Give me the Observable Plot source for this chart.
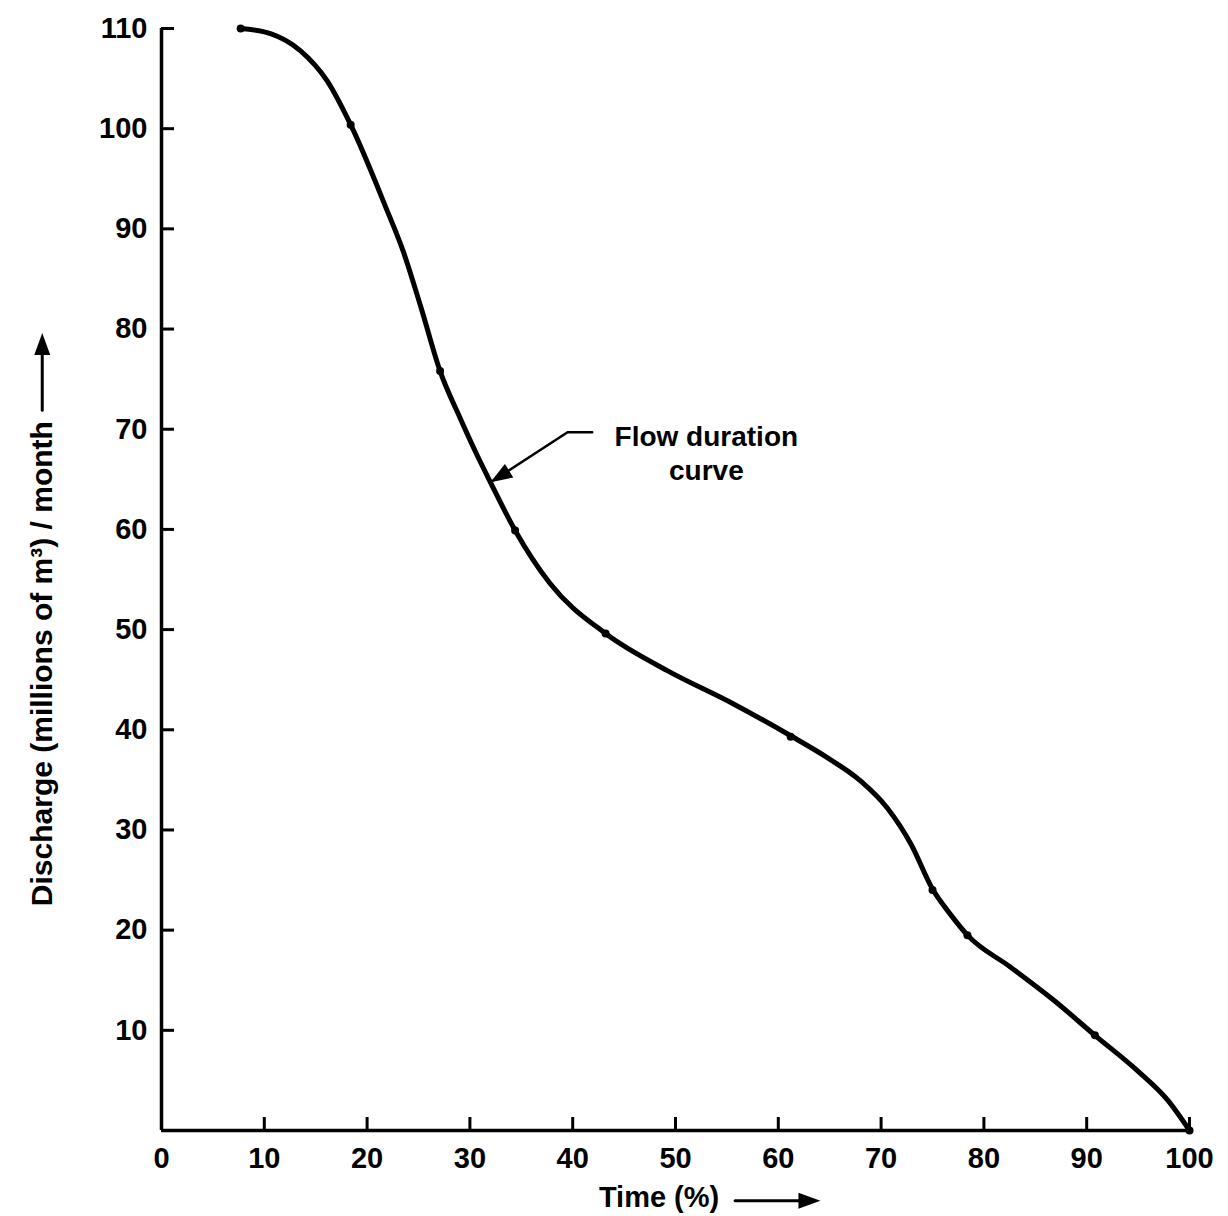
<!DOCTYPE html>
<html>
<head>
<meta charset="utf-8">
<script src="https://cdn.jsdelivr.net/npm/d3@7"></script>
<script src="https://cdn.jsdelivr.net/npm/@observablehq/plot@0.6"></script>
<style>
  html, body { margin: 0; padding: 0; background: #fff; }
  #chart svg { display: block; }
</style>
</head>
<body>
<div id="chart"></div>
<script>
// Plotted (marked) points of the flow duration curve
const markerTime      = [7.7, 18.4, 27.1, 34.4, 43.2, 61.2, 75.0, 78.4, 90.8, 100];
const markerDischarge = [110, 100.4, 75.8, 59.9, 49.6, 39.3, 24.0, 19.5, 9.5, 0];

// Curve (passes through the markers)
const curveTime      = [7.7, 10.6, 13.5, 16.1, 18.4, 21.8, 23.5, 25.2, 27.1, 29.1, 30.8, 32.0, 34.4, 37.8, 43.2, 49.2, 55.6, 61.2, 64.8, 68.0, 70.6, 72.9, 75.0, 76.8, 78.4, 82.6, 86.8, 90.8, 94.9, 97.9, 100];
const curveDischarge = [110, 109.5, 107.8, 104.8, 100.4, 92.2, 87.8, 82.3, 75.8, 71.0, 67.2, 64.7, 59.9, 54.6, 49.6, 45.9, 42.6, 39.4, 37.2, 34.9, 32.2, 28.6, 24.1, 21.5, 19.5, 16.3, 13.0, 9.5, 6.0, 3.0, 0];

const xTicks = [0, 10, 20, 30, 40, 50, 60, 70, 80, 90, 100];
const yTicks = [10, 20, 30, 40, 50, 60, 70, 80, 90, 100, 110];

const xLabel = "Time (%)";
const yLabel = "Discharge (millions of m³) / month";
const annotation = "Flow duration\ncurve";

const markers = markerTime.map((t, i) => ({time: t, discharge: markerDischarge[i]}));
const curvePts = curveTime.map((t, i) => ({time: t, discharge: curveDischarge[i]}));

// filled arrowhead symbol: tip at origin, pointing up
const arrowHead = {
  draw(context) {
    const L = 22, W = 8;
    context.moveTo(0, 0);
    context.lineTo(-W, L);
    context.lineTo(W, L);
    context.closePath();
  }
};

const font = "'Liberation Sans', Arial, Helvetica, sans-serif";

const chart = Plot.plot({
  width: 1228,
  height: 1216,
  marginLeft: 161,
  marginRight: 39,
  marginTop: 28,
  marginBottom: 86,
  style: {fontFamily: font, fontSize: "29px", fontWeight: "bold", color: "#000", background: "#fff"},
  x: {domain: [0, 100], label: null},
  y: {domain: [0, 110], label: null},
  marks: [
    // axis lines
    Plot.ruleX([0], {y1: 0, y2: 110, stroke: "#000", strokeWidth: 3.5}),
    Plot.ruleY([0], {x1: 0, x2: 100, stroke: "#000", strokeWidth: 3.5}),
    // axes with inward ticks
    Plot.axisY({ticks: yTicks, label: null, tickSize: -13, tickPadding: 27, strokeWidth: 3, fontSize: 29, tickFormat: d => d}),
    Plot.axisX({ticks: xTicks, label: null, tickSize: -13, tickPadding: 30, strokeWidth: 3, fontSize: 29, tickFormat: d => d}),
    // the flow duration curve
    Plot.line(curvePts, {x: "time", y: "discharge", curve: "monotone-x", stroke: "#000", strokeWidth: 5, strokeLinecap: "round", strokeLinejoin: "round"}),
    Plot.dot(markers, {x: "time", y: "discharge", r: 4, fill: "#000"}),
    // annotation
    Plot.text([annotation], {x: 53.0, y: 67.7, text: d => d, fontSize: 28, fontWeight: "bold", lineHeight: 1.2, textAnchor: "middle", lineAnchor: "middle"}),
    Plot.line([{time: 41.9, discharge: 69.7}, {time: 39.5, discharge: 69.7}, {time: 32.3, discharge: 64.9}], {x: "time", y: "discharge", stroke: "#000", strokeWidth: 2.5}),
    Plot.dot([{time: 32.0, discharge: 64.7}], {x: "time", y: "discharge", symbol: arrowHead, rotate: 238, fill: "#000", stroke: "none"}),
    // x-axis label with arrow
    Plot.text([xLabel], {x: 48.4, y: -6.7, text: d => d, fontSize: 29, fontWeight: "bold", textAnchor: "middle"}),
    Plot.line([{time: 55.8, discharge: -7.0}, {time: 63.0, discharge: -7.0}], {x: "time", y: "discharge", stroke: "#000", strokeWidth: 3}),
    Plot.dot([{time: 64.1, discharge: -7.0}], {x: "time", y: "discharge", symbol: arrowHead, rotate: 90, fill: "#000", stroke: "none"}),
    // y-axis label with arrow
    Plot.text([yLabel], {x: -11.6, y: 46.6, text: d => d, fontSize: 30, fontWeight: "bold", rotate: -90, textAnchor: "middle"}),
    Plot.line([{time: -11.6, discharge: 71.9}, {time: -11.6, discharge: 78.5}], {x: "time", y: "discharge", stroke: "#000", strokeWidth: 3}),
    Plot.dot([{time: -11.6, discharge: 79.6}], {x: "time", y: "discharge", symbol: arrowHead, rotate: 0, fill: "#000", stroke: "none"})
  ]
});

document.getElementById("chart").appendChild(chart);
</script>
</body>
</html>
